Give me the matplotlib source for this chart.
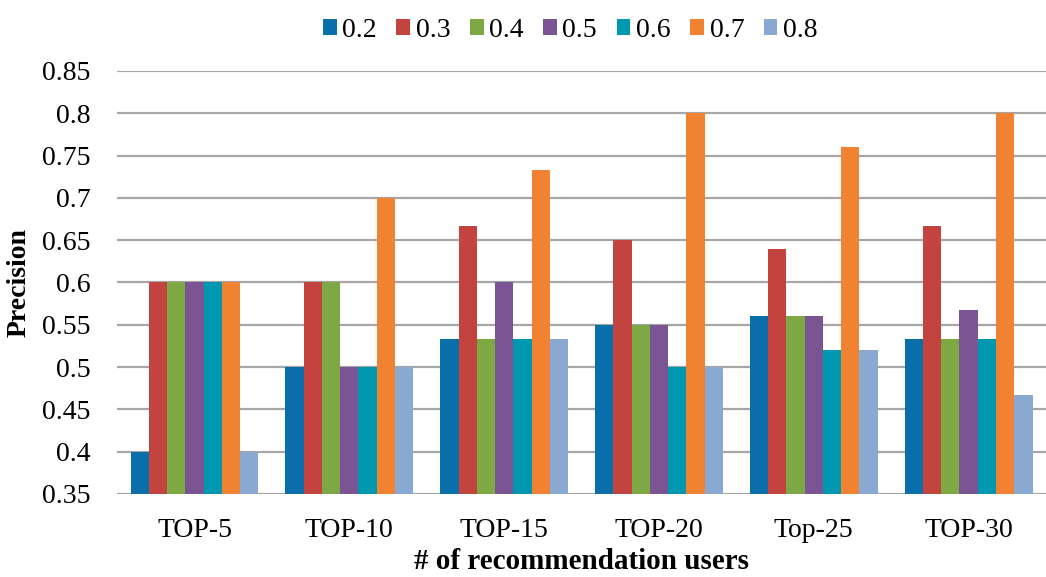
import matplotlib
matplotlib.use('Agg')
import matplotlib.pyplot as plt
import numpy as np

plt.rcParams['font.family'] = ['Liberation Serif', 'DejaVu Serif']

groups = ['TOP-5', 'TOP-10', 'TOP-15', 'TOP-20', 'Top-25', 'TOP-30']
series = ['0.2', '0.3', '0.4', '0.5', '0.6', '0.7', '0.8']

v02 = [0.4, 0.5, 0.533, 0.55, 0.56, 0.533]
v03 = [0.6, 0.6, 0.667, 0.65, 0.64, 0.667]
v04 = [0.6, 0.6, 0.533, 0.55, 0.56, 0.533]
v05 = [0.6, 0.5, 0.6, 0.55, 0.56, 0.567]
v06 = [0.6, 0.5, 0.533, 0.5, 0.52, 0.533]
v07 = [0.6, 0.7, 0.733, 0.8, 0.76, 0.8]
v08 = [0.4, 0.5, 0.533, 0.5, 0.52, 0.467]

colors = ['#0A6EAA', '#C3443F', '#7EA843', '#7B5593', '#0097B0', '#F08232', '#8AA9D2']

fig = plt.figure(figsize=(10.46, 5.77), dpi=100)
ax = fig.add_axes([0.112, 0.144, 0.888, 0.733])

x = np.arange(len(groups))
w = 0.118
all_vals = [v02, v03, v04, v05, v06, v07, v08]
for i, vals in enumerate(all_vals):
    ax.bar(x + (i - 3) * w, vals, w, color=colors[i], label=series[i], zorder=3)

ax.set_ylim(0.35, 0.85)
ax.set_xlim(-0.5, 5.5)
ax.set_yticks(np.arange(0.35, 0.851, 0.05))
ax.set_yticklabels(['0.35', '0.4', '0.45', '0.5', '0.55', '0.6', '0.65', '0.7', '0.75', '0.8', '0.85'])
ax.set_xticks(x)
ax.set_xticklabels(groups)
ax.tick_params(axis='both', length=0, labelsize=20)
ax.tick_params(axis='x', pad=17)
ax.tick_params(axis='y', pad=19)
ax.yaxis.grid(True, color='#A6A6A6', linewidth=1.6, zorder=0)
for s in ['top', 'right', 'left', 'bottom']:
    ax.spines[s].set_visible(False)

ax.set_xlabel('# of recommendation users', fontsize=21, fontweight='bold', labelpad=4)
ax.set_ylabel('Precision', fontsize=20, fontweight='bold', labelpad=8)

fig.legend(loc='upper center', bbox_to_anchor=(0.545, 1.012), ncol=7, frameon=False,
           fontsize=20, handlelength=0.5, handleheight=0.5, handletextpad=0.2,
           columnspacing=0.7)

fig.savefig('out.png', dpi=100)
